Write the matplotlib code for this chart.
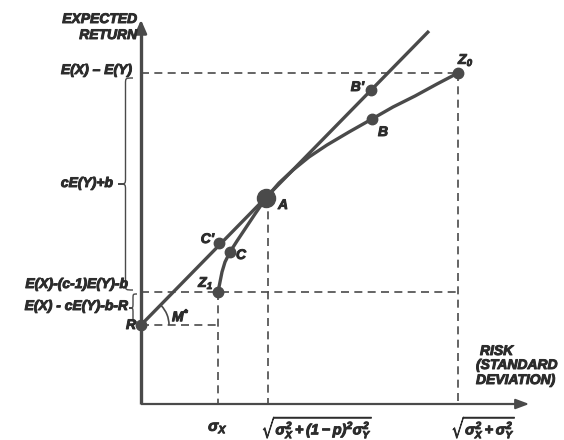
import matplotlib
matplotlib.use("Agg")
import matplotlib.pyplot as plt
import matplotlib.patheffects as pe
from matplotlib.patches import Arc, PathPatch
from matplotlib.path import Path

FONT = 'Liberation Sans'
plt.rcParams['font.family'] = [FONT, 'DejaVu Sans']
plt.rcParams['mathtext.fontset'] = 'custom'
plt.rcParams['mathtext.it'] = FONT + ':italic:bold'
plt.rcParams['mathtext.rm'] = FONT + ':italic:bold'
plt.rcParams['mathtext.bf'] = FONT + ':italic:bold'

# ---- data (risk, expected return) in chart units ----
point_names = ["R", "Z1", "C", "C'", "A", "B", "B'", "Z0"]
point_x = [0, 77, 89, 78, 125, 231, 230, 317]
point_y = [79, 112, 152, 161, 206, 285, 314, 331]

# efficient frontier curve Z1 -> C -> A -> B -> Z0
curve_x = [77, 79, 81, 84, 89, 96, 104, 114, 125, 138, 152, 168, 186, 208, 231, 252, 274, 296, 317]
curve_y = [112, 122, 132, 142, 152, 163, 175, 190, 206, 221, 234, 247, 259, 272, 285, 297, 308, 320, 331]

# tangent line from R through A
tangent_x = [0, 288]
tangent_y = [79, 373]

sigma_x = 77
sigma_a = 127
sigma_z0 = 317
ret_z0 = 331
ret_z1 = 112
ret_r = 79

INK = '#4a4a4a'
TXT = '#2c2c2c'
fig = plt.figure(figsize=(5.64, 4.40), dpi=100)
ax = fig.add_axes([0, 0, 1, 1])
ax.set_xlim(-141, 423)
ax.set_ylim(-36, 404)
ax.axis('off')

# axes with arrows
ax.plot([0, 0], [0, 378], color=INK, lw=2.4, solid_capstyle='butt')
ax.plot([0, 382], [0, 0], color=INK, lw=1.6, solid_capstyle='butt')
ax.annotate('', xy=(0, 387), xytext=(0, 370),
            arrowprops=dict(arrowstyle='-|>,head_length=0.8,head_width=0.35', color=INK, lw=2))
ax.annotate('', xy=(391, 0), xytext=(375, 0),
            arrowprops=dict(arrowstyle='-|>,head_length=0.8,head_width=0.3', color=INK, lw=1.5))

# dashed guide lines
ds = dict(color=INK, lw=1.2, linestyle=(0, (4.8, 3.2)))
ax.plot([0, sigma_z0], [ret_z0, ret_z0], **ds)
ax.plot([sigma_z0, sigma_z0], [ret_z0, 0], **ds)
ax.plot([0, sigma_z0], [ret_z1, ret_z1], **ds)
ax.plot([0, sigma_x], [ret_r, ret_r], **ds)
ax.plot([sigma_x, sigma_x], [ret_z1, 0], **ds)
ax.plot([sigma_a, sigma_a], [point_y[4], 0], **ds)

# tangent line and curve
ax.plot(tangent_x, tangent_y, color=INK, lw=2.4, solid_capstyle='butt')
ax.plot(curve_x, curve_y, color=INK, lw=2.4, solid_joinstyle='round')

# points
for n, x, y in zip(point_names, point_x, point_y):
    ax.plot(x, y, 'o', color=INK, ms=13 if n == 'A' else 7.5, zorder=5)

heavy = [pe.withStroke(linewidth=0.7, foreground=TXT)]
tk = dict(fontsize=10, fontweight='bold', fontstyle='italic', color=TXT, path_effects=heavy)
ax.text(137, 199, 'A', ha='left', va='center', **tk)
ax.text(237, 272, 'B', ha='left', va='center', **tk)
ax.text(223, 317, "B'", ha='right', va='center', **tk)
ax.text(73, 165, "C'", ha='right', va='center', **tk)
ax.text(95, 149, 'C', ha='left', va='center', **tk)
ax.text(73, 121, r'Z$_1$', ha='right', va='center', **tk)
ax.text(317, 344, r'Z$_0$', ha='left', va='center', **tk)
ax.text(-5, 79, 'R', ha='right', va='center', **tk)
ax.text(31, 89, r'M$^{*}$', ha='left', va='center', **tk)
ax.add_patch(Arc((0, 79), 56, 56, theta1=0, theta2=44, color=INK, lw=1.2))

# y-axis labels
ax.text(-4, 385, 'EXPECTED', ha='right', va='center', **tk)
ax.text(-4, 369, 'RETURN', ha='right', va='center', **tk)
ax.text(-9, 334, 'E(X) – E(Y)', ha='right', va='center', **tk)
ax.text(-28, 221, 'cE(Y)+b', ha='right', va='center', **tk)
ax.text(-13, 120, 'E(X)-(c-1)E(Y)-b', ha='right', va='center', **tk)
ax.text(-13, 98, 'E(X) - cE(Y)-b-R', ha='right', va='center', **tk)


def brace(x, y0, y1, d):
    ym = (y0 + y1) / 2
    r = min(6, (y1 - y0) / 6)
    s = x - d / 2
    verts = [(x, y0), (s, y0), (s, y0), (s, y0 + r), (s, ym - r), (s, ym), (s, ym), (x - d, ym),
             (x - d, ym), (s, ym), (s, ym), (s, ym + r), (s, y1 - r), (s, y1), (s, y1), (x, y1)]
    codes = [Path.MOVETO, Path.CURVE4, Path.CURVE4, Path.CURVE4, Path.LINETO,
             Path.CURVE4, Path.CURVE4, Path.CURVE4,
             Path.MOVETO, Path.CURVE4, Path.CURVE4, Path.CURVE4, Path.LINETO,
             Path.CURVE4, Path.CURVE4, Path.CURVE4]
    ax.add_patch(PathPatch(Path(verts, codes), fill=False, edgecolor=INK, lw=1.0))


brace(-8, 114, 326, 15)
brace(-4, 82, 110, 8)

# x-axis labels
mk = dict(color=TXT, path_effects=heavy)
ax.text(sigma_x, -24, r'$\sigma_X$', ha='center', va='center', fontsize=11, **mk)
ax.text(121, -23, r'$\sqrt{\sigma_X^2+(1-p)^2\sigma_Y^2}$', ha='left', va='center', fontsize=10.5, **mk)
ax.text(343, -23, r'$\sqrt{\sigma_X^2+\sigma_Y^2}$', ha='center', va='center', fontsize=10.5, **mk)

ax.text(339, 53, 'RISK', ha='left', va='center', **tk)
ax.text(335, 39, '(STANDARD', ha='left', va='center', **tk)
ax.text(335, 24, 'DEVIATION)', ha='left', va='center', **tk)

fig.savefig('out.png', dpi=100)
